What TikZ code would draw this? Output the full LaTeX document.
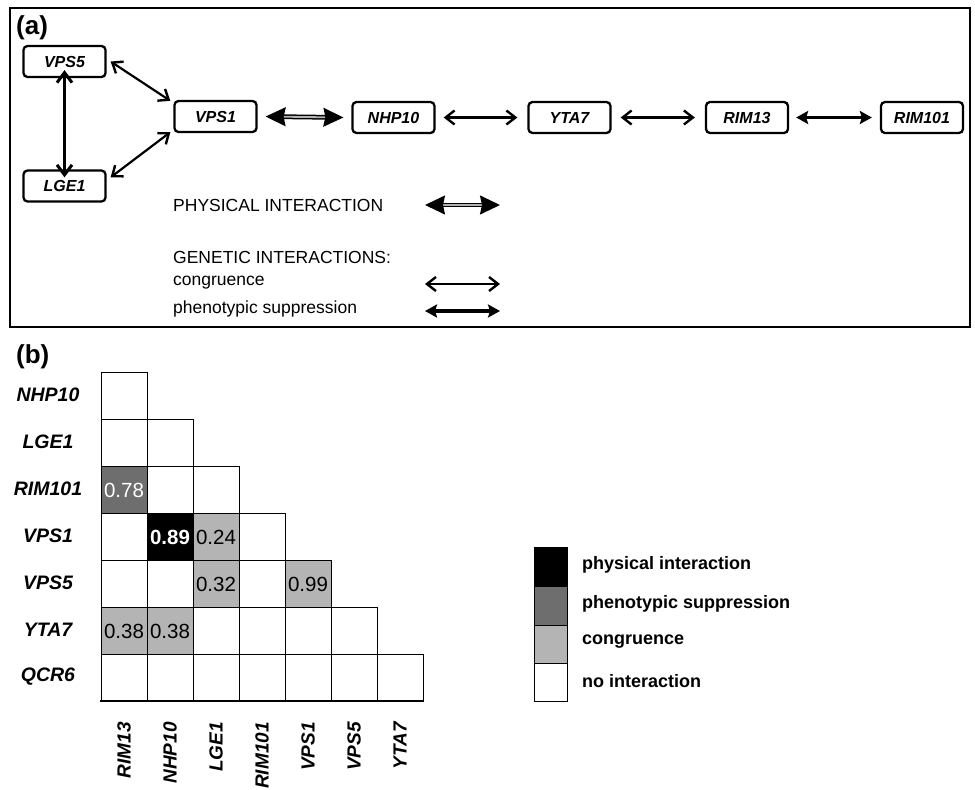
\documentclass[tikz,border=0pt]{standalone}
\usepackage{fontspec}
\setmainfont{Liberation Sans}
\usetikzlibrary{arrows.meta}
\definecolor{darkg}{HTML}{6E6E6E}
\definecolor{lightg}{HTML}{B4B4B4}
\tikzset{
  gene/.style={draw, line width=2.3pt, rounded corners=4pt, minimum width=82pt, minimum height=31pt, inner sep=0pt, font=\fontsize{16}{17}\selectfont\bfseries\itshape},
  congr/.style={line width=2.2pt, {Straight Barb[length=9pt,width=14pt,line width=2.4pt]}-{Straight Barb[length=9pt,width=14pt,line width=2.4pt]}},
  thickbarb/.style={line width=3pt, {Straight Barb[length=10pt,width=15pt,line width=3pt]}-{Straight Barb[length=10pt,width=15pt,line width=3pt]}},
  suppr/.style={line width=3.2pt, {Stealth[length=12pt,width=13pt,inset=2pt]}-{Stealth[length=12pt,width=13pt,inset=2pt]}},
  phys/.style={double=gray!60, line width=1.5pt, double distance=1.8pt, {Stealth[length=20pt,width=19pt,inset=2pt]}-{Stealth[length=20pt,width=19pt,inset=2pt]}},
  legtxt/.style={anchor=west, inner sep=0pt, font=\fontsize{17.5}{18}\selectfont},
  rowlab/.style={inner sep=0pt, font=\fontsize{19.5}{20}\selectfont\bfseries\itshape},
  collab/.style={rotate=90, anchor=east, inner sep=0pt, font=\fontsize{19}{20}\selectfont\bfseries\itshape},
  cell/.style={draw, line width=0.9pt},
  val/.style={inner sep=0pt, font=\fontsize{20.5}{21}\selectfont},
  keytxt/.style={anchor=west, inner sep=0pt, font=\fontsize{18}{19}\selectfont\bfseries},
  panel/.style={inner sep=0pt, font=\fontsize{26}{27}\selectfont\bfseries}
}
\begin{document}
\begin{tikzpicture}[x=1pt,y=-1pt]
\useasboundingbox (0,0) rectangle (975,790);
% panel (a)
\draw[line width=2.8pt] (10,8) rectangle (970,327);
\node[panel, anchor=west] (pa) at (16,28) {(a)};
\node[gene] (vps5) at (64.5,61.5) {VPS5};
\node[gene] (lge1) at (64.5,186) {LGE1};
\node[gene] (vps1) at (215.5,116.5) {VPS1};
\node[gene] (nhp10) at (393.5,117.5) {NHP10};
\node[gene] (yta7) at (569.5,117.5) {YTA7};
\node[gene] (rim13) at (747,117.5) {RIM13};
\node[gene] (rim101) at (922,117.5) {RIM101};
\draw[congr] ([xshift=4pt,yshift=0pt]vps5.east) -- ([xshift=-3pt,yshift=-1pt]vps1.north west);
\draw[congr] ([xshift=4pt,yshift=-8pt]lge1.north east) -- ([xshift=-3pt,yshift=1pt]vps1.south west);
\draw[thickbarb] ([yshift=8pt]vps5.south) -- ([yshift=-8pt]lge1.north);
\draw[phys] ([xshift=8pt]vps1.east) -- ([xshift=-8pt]nhp10.west);
\draw[congr] ([xshift=8pt]nhp10.east) -- ([xshift=-10pt]yta7.west);
\draw[congr] ([xshift=9pt]yta7.east) -- ([xshift=-10pt]rim13.west);
\draw[suppr] ([xshift=7pt]rim13.east) -- ([xshift=-8pt]rim101.west);
% legend (a)
\node[legtxt] (lphys) at (173,205) {PHYSICAL INTERACTION};
\node[legtxt] (lgen) at (173,257) {GENETIC INTERACTIONS:};
\node[legtxt] (lcon) at (173,283) {congruence};
\node[legtxt] (lsup) at (173,309) {phenotypic suppression};
\coordinate (p1) at (425,205); \coordinate (p2) at (500,205);
\coordinate (c1) at (425,284); \coordinate (c2) at (500,284);
\coordinate (s1) at (425,311); \coordinate (s2) at (500,311);
\draw[phys] (p1) -- (p2);
\draw[congr] (c1) -- (c2);
\draw[suppr] (s1) -- (s2);
% panel (b)
\node[panel, anchor=west] (pb) at (16,357) {(b)};
\foreach \i in {0,...,6}{
  \foreach \j in {0,...,\i}{
    \draw[cell, fill=white] ({101+46*\j},{372+47*\i}) rectangle ({147+46*\j},{419+47*\i});
  }
}
% filled cells
\draw[cell, fill=darkg] (101,466) rectangle (147,513);
\draw[cell, fill=black] (147,513) rectangle (193,560);
\draw[cell, fill=lightg] (193,513) rectangle (239,560);
\draw[cell, fill=lightg] (193,560) rectangle (239,607);
\draw[cell, fill=lightg] (285,560) rectangle (331,607);
\draw[cell, fill=lightg] (101,607) rectangle (147,654);
\draw[cell, fill=lightg] (147,607) rectangle (193,654);
\draw[line width=2pt] (100,701) -- (423,701);
\node[val, white] (v1) at (124,490) {0.78};
\node[val, white, font=\fontsize{20.5}{21}\selectfont\bfseries] (v2) at (170,537) {0.89};
\node[val] (v3) at (216,537) {0.24};
\node[val] (v4) at (216,584) {0.32};
\node[val] (v5) at (308,584) {0.99};
\node[val] (v6) at (124,631) {0.38};
\node[val] (v7) at (170,631) {0.38};
% row labels
\node[rowlab] (r1) at (48,395) {NHP10};
\node[rowlab] (r2) at (48,442) {LGE1};
\node[rowlab] (r3) at (48,489) {RIM101};
\node[rowlab] (r4) at (48,536) {VPS1};
\node[rowlab] (r5) at (48,583) {VPS5};
\node[rowlab] (r6) at (48,630) {YTA7};
\node[rowlab] (r7) at (48,677) {QCR6};
% column labels
\node[collab] (k1) at (124,722) {RIM13};
\node[collab] (k2) at (170,722) {NHP10};
\node[collab] (k3) at (216,722) {LGE1};
\node[collab] (k4) at (262,722) {RIM101};
\node[collab] (k5) at (308,722) {VPS1};
\node[collab] (k6) at (354,722) {VPS5};
\node[collab] (k7) at (400,722) {YTA7};
% key
\draw[cell, fill=black] (534,547) rectangle (567,586);
\draw[cell, fill=darkg] (534,586) rectangle (567,625);
\draw[cell, fill=lightg] (534,625) rectangle (567,663);
\draw[cell, fill=white] (534,663) rectangle (567,701);
\node[keytxt] (t1) at (582,565) {physical interaction};
\node[keytxt] (t2) at (582,604) {phenotypic suppression};
\node[keytxt] (t3) at (582,642) {congruence};
\node[keytxt] (t4) at (582,681) {no interaction};
\end{tikzpicture}
\end{document}
